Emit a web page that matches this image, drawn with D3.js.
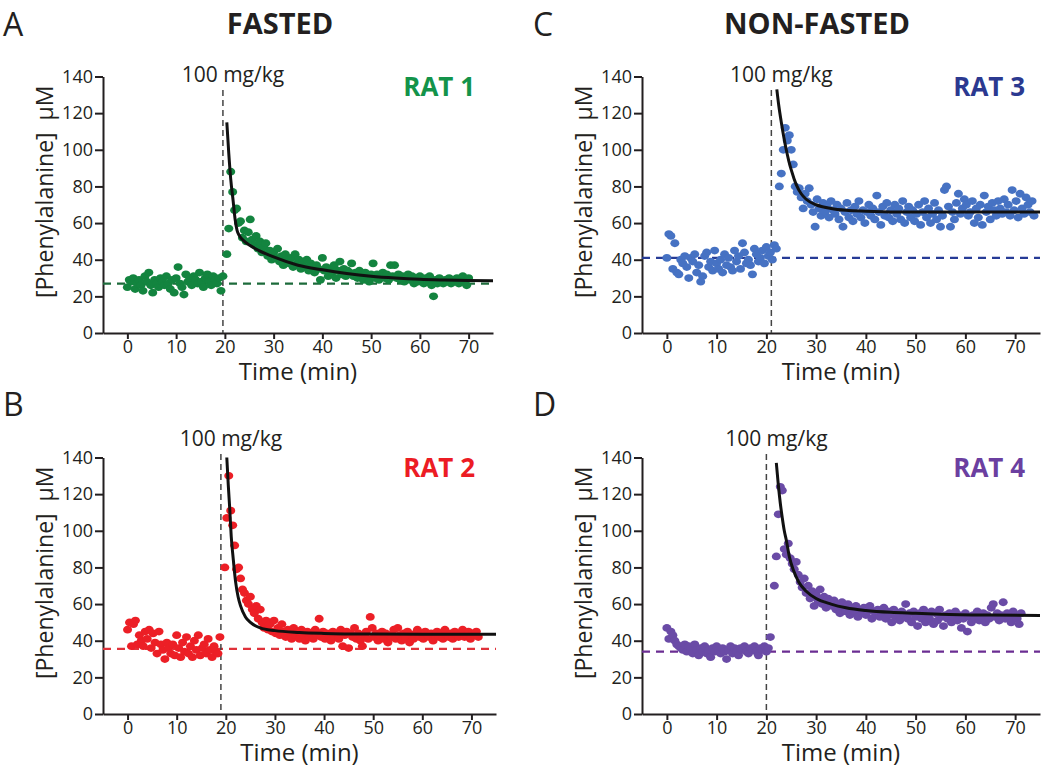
<!DOCTYPE html>
<html><head><meta charset="utf-8">
<script src="https://cdn.jsdelivr.net/npm/d3@7"></script>
<style>
html,body{margin:0;padding:0;background:#fff;}
svg{display:block;font-family:"Open Sans",sans-serif;}
</style></head>
<body>
<svg id="chart" width="1050" height="773"></svg>
<script>
// ---------------- DATA ----------------
const xTicks = [0,10,20,30,40,50,60,70];
const yTicks = [0,20,40,60,80,100,120,140];
const sampleStep = 0.4; // min between samples

// Rat 1 (fasted)
const rat1PreStart = 0;
const rat1Pre = [25,29,28,30,24,27,29,26,23,31,28,33,26,22,29,27,25,30,28,26,31,27,24,29,22,30,36,27,25,21,32,28,30,26,31,29,27,33,28,25,30,32,28,26,31,29,27,30,23,31];
const rat1PostStart = 20.4;
const rat1Post = [43,57,88,77,67,68,60,61,52,56,50,55,62,51,48,53,46,50,44,47,49,42,45,40,44,41,46,39,42,37,43,40,38,41,36,43,38,40,35,39,36,40,34,38,36,33,37,35,29,41,34,36,31,35,33,37,30,34,39,32,35,31,34,33,38,31,33,30,34,32,29,33,31,28,32,38,30,32,29,31,33,30,32,29,37,31,37,30,32,29,31,28,30,32,29,31,27,30,28,31,29,27,30,28,31,26,20,29,27,30,28,27,29,28,30,27,29,28,30,27,29,31,28,26,30];
const rat1Fit = [[20.4,115],[20.8,98],[21.2,84],[21.7,72],[22.1,62],[22.5,56],[23,53],[24,50],[25,48],[27,45],[30,41.5],[35,37],[40,34.5],[45,32.5],[50,31],[55,30],[60,29.3],[65,28.9],[70,28.6],[75,28.5]];
const rat1Baseline = 27;
const rat1Dose = 19.6;

// Rat 2 (fasted)
const rat2PreStart = 0;
const rat2Pre = [46,50,37,49,51,38,43,40,37,45,41,46,36,44,39,33,45,38,35,30,39,36,33,38,32,43,36,31,39,34,42,33,37,31,40,35,43,32,36,38,33,41,35,31,37,34,33,42];
const rat2PostStart = 19.8;
const rat2Post = [80,107,130,111,103,92,79,80,74,68,66,62,60,64,57,55,59,52,57,50,47,51,46,49,45,51,44,47,43,49,45,42,46,44,41,47,43,45,41,46,43,40,45,42,44,41,46,43,52,42,45,41,44,43,40,45,42,44,41,46,37,43,45,36,44,42,47,41,44,40,37,43,45,41,53,47,42,44,40,43,45,41,44,39,43,42,46,41,47,43,40,44,42,45,39,43,41,44,46,42,44,41,45,43,42,44,40,43,45,42,44,41,46,43,42,44,41,45,43,42,44,46,42,43,45,41,44,43,45,42];
const rat2Fit = [[20.2,140],[20.5,125],[20.8,112],[21.1,97],[21.5,85],[22,72],[22.5,64],[23,59],[24,53],[25,50],[27,47],[30,45.5],[35,44.5],[40,44],[50,43.6],[60,43.5],[75,43.5]];
const rat2Baseline = 35.5;
const rat2Dose = 19;

// Rat 3 (non-fasted)
const rat3PreStart = 0;
const rat3Pre = [41,54,53,35,49,33,32,40,38,42,36,30,41,39,43,33,37,28,31,42,44,36,39,34,45,38,35,40,33,43,37,41,36,34,45,39,42,35,49,44,38,40,37,32,46,43,39,41,45,38,47,42,44,40,48,46];
const rat3PostStart = 22.6;
const rat3Post = [80,87,100,112,105,108,100,92,80,77,79,74,68,76,72,79,70,66,58,73,68,64,71,66,69,63,72,67,65,70,62,68,58,66,71,63,67,61,69,65,72,63,67,60,66,70,64,68,62,75,66,59,69,64,71,63,67,61,70,65,68,62,72,60,66,69,63,67,61,65,70,59,66,72,63,68,60,65,71,62,67,58,64,78,80,69,58,66,62,71,76,65,68,73,70,64,66,72,60,68,63,70,59,75,66,69,62,71,67,64,72,68,65,73,66,70,64,78,67,72,63,76,68,65,74,70,66,72,64];
const rat3Fit = [[22.1,133],[22.5,124],[23,115],[23.5,107],[24,100],[24.5,94],[25,89],[26,81],[27,76],[28,73],[30,70],[33,68],[36,67],[40,66.5],[50,66],[75,66]];
const rat3Baseline = 41;
const rat3Dose = 21;

// Rat 4 (non-fasted)
const rat4PreStart = 0;
const rat4Pre = [47,41,45,43,40,38,37,36,35,38,34,37,36,33,38,35,32,36,34,37,33,35,31,36,34,37,35,33,36,34,30,35,37,33,36,34,32,36,35,37,34,33,36,35,37,34,32,36,35,37,34,36,42];
const rat4PostStart = 21.6;
const rat4Post = [70,86,109,124,122,90,87,93,85,82,79,83,76,72,69,74,66,70,63,67,59,65,62,68,60,64,58,63,61,59,62,57,60,55,61,58,56,60,54,58,56,59,53,57,55,58,54,56,59,52,56,54,57,53,55,58,52,56,54,50,57,53,55,51,56,54,60,52,55,50,56,53,48,55,52,57,50,54,52,56,49,55,51,57,53,48,54,52,55,50,53,56,51,54,47,52,55,45,53,50,54,52,56,51,53,55,50,54,52,58,60,53,55,51,54,61,52,55,53,50,56,54,52,49,55];
const rat4Fit = [[22,137],[22.4,125],[22.8,115],[23.2,107],[23.6,100],[24,95],[24.6,86],[25.5,78],[26.5,72],[28,67],[30,63],[33,60],[36,58],[40,56.5],[45,55.5],[50,55],[55,54.5],[65,54],[75,53.8]];
const rat4Baseline = 34;
const rat4Dose = 20;

const doseLabel = "100 mg/kg";
const xLabel = "Time (min)";
const yLabel = "[Phenylalanine]\u00a0\u00a0μM";
const groupTitles = ["FASTED", "NON-FASTED"];
const panelLetters = ["A", "B", "C", "D"];

// ---------------- LAYOUT ----------------
function toPoints(start, vals){ return vals.map((v,i)=>[start + i*sampleStep, v]); }

const panels = [
  {name:"RAT 1", pts: toPoints(rat1PreStart,rat1Pre).concat(toPoints(rat1PostStart,rat1Post)), fit:rat1Fit, base:rat1Baseline, dose:rat1Dose,
   x0:103, x1:493, yTop:76.5, yBot:333, dot:"#13843f", dash:"#1d6b3b", label:"#13934a"},
  {name:"RAT 2", pts: toPoints(rat2PreStart,rat2Pre).concat(toPoints(rat2PostStart,rat2Post)), fit:rat2Fit, base:rat2Baseline, dose:rat2Dose,
   x0:103, x1:496, yTop:457.5, yBot:714, dot:"#ec1f26", dash:"#e0323a", label:"#ec1c24"},
  {name:"RAT 3", pts: toPoints(rat3PreStart,rat3Pre).concat(toPoints(rat3PostStart,rat3Post)), fit:rat3Fit, base:rat3Baseline, dose:rat3Dose,
   x0:642, x1:1040, yTop:76.5, yBot:333, dot:"#4672c3", dash:"#263b96", label:"#2b3990"},
  {name:"RAT 4", pts: toPoints(rat4PreStart,rat4Pre).concat(toPoints(rat4PostStart,rat4Post)), fit:rat4Fit, base:rat4Baseline, dose:rat4Dose,
   x0:642, x1:1040, yTop:457.5, yBot:714, dot:"#6a4ba6", dash:"#6b2d92", label:"#6b3fa0"}
];

const svg = d3.select("#chart");
const ink = "#231f20";

// group titles and letters
const letterPos = [[3,36],[3,416],[533,36],[533,416]];
panelLetters.forEach((l,i)=>{
  svg.append("text").attr("x",letterPos[i][0]).attr("y",letterPos[i][1]).attr("font-size",32).attr("fill",ink).text(l);
});
svg.append("text").attr("x",280).attr("y",34).attr("text-anchor","middle").attr("font-size",29).attr("font-weight","bold").attr("fill",ink).text(groupTitles[0]);
svg.append("text").attr("x",817).attr("y",34).attr("text-anchor","middle").attr("font-size",29).attr("font-weight","bold").attr("fill",ink).text(groupTitles[1]);

panels.forEach(p=>{
  const x = d3.scaleLinear().domain([-5,75]).range([p.x0,p.x1]);
  const y = d3.scaleLinear().domain([0,140]).range([p.yBot,p.yTop]);
  const g = svg.append("g");

  // axes
  const ya = g.append("g").attr("transform",`translate(${p.x0},0)`)
    .call(d3.axisLeft(y).tickValues(yTicks).tickSize(8).tickSizeOuter(0).tickPadding(2));
  const xa = g.append("g").attr("transform",`translate(0,${p.yBot})`)
    .call(d3.axisBottom(x).tickValues(xTicks).tickSize(6).tickSizeOuter(0).tickPadding(1));
  [ya,xa].forEach(a=>{
    a.selectAll("path").attr("stroke",ink).attr("stroke-width",2);
    a.selectAll("line").attr("stroke",ink).attr("stroke-width",2);
    a.selectAll("text").attr("font-size",18).attr("fill",ink).attr("font-family","Open Sans, sans-serif");
  });

  // baseline dashed
  g.append("line").attr("x1",x(-5)).attr("x2",x(75)).attr("y1",y(p.base)).attr("y2",y(p.base))
    .attr("stroke",p.dash).attr("stroke-width",2.2).attr("stroke-dasharray","8,6");

  // dose label + vertical line
  const labY = p.yTop < 200 ? 82 : 446;
  g.append("text").attr("x",x(p.dose)+10).attr("y",labY).attr("text-anchor","middle")
    .attr("font-size",21).attr("fill",ink).text(doseLabel);
  g.append("line").attr("x1",x(p.dose)).attr("x2",x(p.dose)).attr("y1",labY+8).attr("y2",p.yBot)
    .attr("stroke","#444").attr("stroke-width",1.5).attr("stroke-dasharray","6,4");

  // dots
  g.append("g").selectAll("ellipse").data(p.pts).join("ellipse")
    .attr("cx",d=>x(d[0])).attr("cy",d=>y(d[1])).attr("rx",4.5).attr("ry",3.9)
    .attr("fill",p.dot);

  // fit
  g.append("path").datum(p.fit)
    .attr("d",d3.line().x(d=>x(d[0])).y(d=>y(d[1])).curve(d3.curveMonotoneX))
    .attr("fill","none").attr("stroke","#111").attr("stroke-width",3);

  // rat label
  g.append("text").attr("x",p.x0 + (p.x0<300?372:383)).attr("y",p.yTop+19).attr("text-anchor","end")
    .attr("font-size",26).attr("font-weight","bold").attr("fill",p.label).text(p.name);

  // axis titles
  g.append("text").attr("x",x(35)).attr("y",p.yBot+47).attr("text-anchor","middle")
    .attr("font-size",24).attr("fill",ink).text(xLabel);
  g.append("text").attr("transform",`translate(${p.x0-50},${(p.yTop+p.yBot)/2-13}) rotate(-90)`)
    .attr("text-anchor","middle").attr("font-size",23).attr("fill",ink).text(yLabel);
});
</script>
</body></html>
